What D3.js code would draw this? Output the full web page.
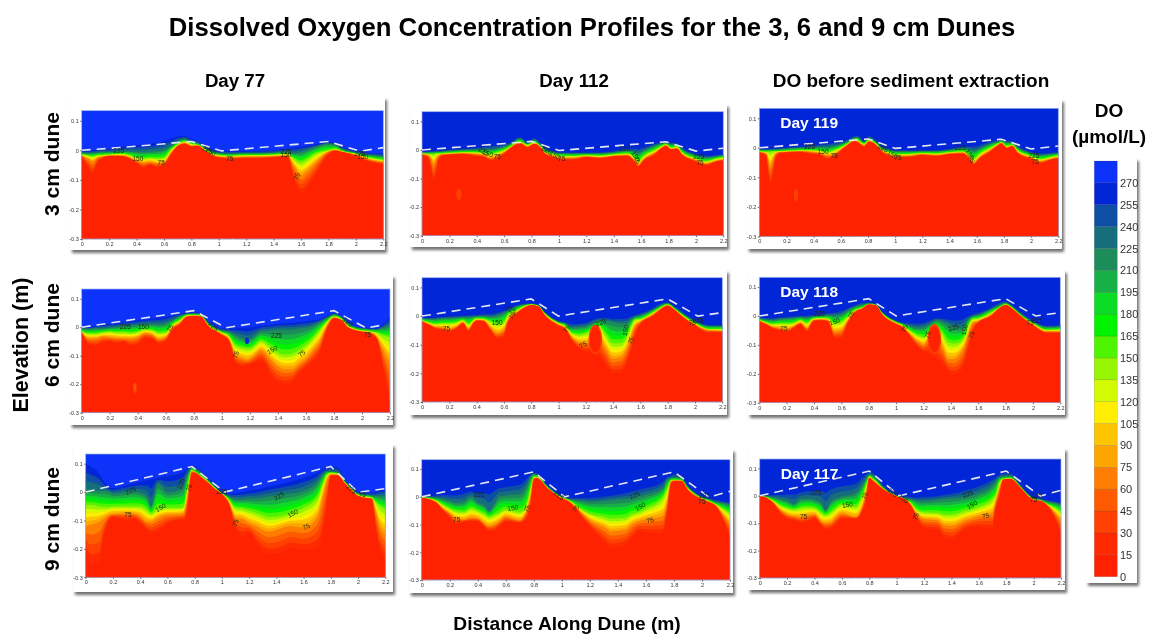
<!DOCTYPE html>
<html>
<head>
<meta charset="utf-8">
<script src="https://cdnjs.cloudflare.com/ajax/libs/d3/7.8.5/d3.min.js"></script>
<style>
  html, body { margin: 0; padding: 0; background: #fff; }
  text { font-family: "Liberation Sans", Arial, sans-serif; }
</style>
</head>
<body>
<svg id="chart" width="1150" height="635"></svg>
<script>
// DO levels read along the dune: each row is
// [distance m, elevation (mm) of the 270, 225, 150, 75 and 15 umol/L contours]
const contourLevels = [270, 225, 150, 75, 15]

const day77cm3 = [[0,-2,-8,-14,-18,-20],[.05,-1,-10,-18,-30,-65],[.08,0,-9,-20,-38,-82],[.12,3,-7,-16,-24,-40],[.15,5,-6,-16,-22,-28],[.2,6,-6,-14,-18,-20],[.3,12,-3,-12,-18,-22],[.4,17,-5,-24,-35,-45],[.45,19,-6,-28,-42,-62],[.5,22,-4,-25,-40,-52],[.55,26,-2,-28,-44,-60],[.6,30,2,-25,-42,-52],[.65,38,15,2,-10,-18],[.7,46,30,20,15,12],[.75,50,38,30,24,20],[.8,38,28,22,15,12],[.85,30,24,18,16,14],[.9,15,6,3,-2,-6],[1,-2,-10,-16,-22,-26],[1.1,-3,-12,-18,-24,-30],[1.2,-2,-10,-16,-22,-28],[1.3,-2,-10,-16,-22,-28],[1.4,0,-8,-15,-20,-25],[1.5,5,-4,-12,-18,-22],[1.55,9,-10,-28,-55,-105],[1.6,12,-6,-40,-85,-145],[1.65,16,2,-28,-68,-125],[1.7,20,10,-12,-45,-90],[1.8,28,22,0,-5,-15],[1.85,25,18,5,0,-3],[1.9,12,4,-3,-5,-7],[2,-2,-8,-12,-16,-20],[2.1,-8,-16,-25,-32,-40],[2.2,-10,-20,-32,-40,-48]]

const day112cm3 = [[0,-5,-8,-12,-15,-18],[.05,-4,-8,-14,-20,-35],[.07,-3,-7,-14,-35,-85],[.085,-3,-7,-14,-50,-115],[.1,-2,-6,-12,-35,-95],[.12,-1,-6,-12,-20,-40],[.15,0,-5,-12,-16,-20],[.2,2,-3,-10,-14,-18],[.3,5,0,-8,-12,-15],[.38,9,1,-8,-14,-22],[.45,14,2,-10,-18,-26],[.5,18,2,-14,-28,-38],[.55,20,5,-8,-20,-32],[.6,22,12,0,-8,-14],[.65,30,22,14,10,6],[.7,45,38,28,24,20],[.72,46,40,28,24,20],[.77,28,22,18,12,7],[.82,44,36,26,22,20],[.87,24,16,10,7,4],[.9,8,0,-8,-12,-16],[.95,-2,-6,-14,-20,-26],[1,-8,-12,-20,-27,-34],[1.1,-9,-12,-21,-28,-36],[1.2,-8,-12,-18,-23,-26],[1.3,-7,-12,-20,-26,-30],[1.4,-2,-8,-16,-20,-24],[1.5,6,-2,-12,-18,-22],[1.55,9,-6,-25,-36,-42],[1.58,10,-10,-38,-52,-60],[1.62,13,-2,-20,-32,-38],[1.7,24,15,0,-10,-18],[1.75,29,22,14,8,4],[1.78,30,24,20,16,12],[1.82,28,20,8,3,0],[1.86,25,20,12,6,2],[1.9,10,2,-8,-14,-20],[2,-12,-18,-30,-36,-42],[2.07,-18,-26,-40,-48,-55],[2.15,-16,-22,-30,-38,-42],[2.2,-14,-18,-26,-34,-38]]

const day119cm3 = [[0,-4,-7,-12,-15,-17],[.05,-3,-7,-13,-19,-30],[.065,-3,-7,-13,-40,-95],[.08,-2,-6,-13,-65,-125],[.1,-2,-6,-12,-40,-105],[.12,-1,-6,-12,-20,-40],[.15,0,-5,-11,-15,-19],[.2,2,-3,-10,-14,-17],[.3,6,0,-8,-12,-15],[.38,9,1,-8,-14,-22],[.45,14,3,-10,-18,-25],[.5,17,3,-14,-26,-40],[.55,20,6,-8,-22,-30],[.6,23,12,2,-6,-12],[.65,30,22,15,11,7],[.7,42,34,28,24,20],[.72,44,36,27,22,18],[.77,26,20,14,8,2],[.81,42,34,26,22,20],[.87,22,15,9,5,2],[.9,8,0,-6,-10,-14],[.95,-2,-6,-14,-22,-28],[1,-7,-12,-22,-28,-34],[1.1,-8,-12,-21,-27,-34],[1.2,-7,-11,-18,-22,-26],[1.3,-7,-11,-19,-25,-30],[1.4,-2,-7,-15,-19,-23],[1.5,6,-1,-12,-17,-21],[1.55,9,-6,-26,-36,-42],[1.58,10,-10,-36,-50,-58],[1.62,13,-2,-20,-32,-38],[1.7,23,14,0,-8,-15],[1.75,28,20,13,8,4],[1.78,29,24,19,16,13],[1.82,27,18,6,1,-2],[1.86,25,18,10,7,4],[1.9,10,2,-8,-14,-20],[2,-12,-18,-28,-34,-40],[2.07,-18,-24,-38,-46,-54],[2.15,-15,-21,-30,-37,-42],[2.2,-13,-18,-25,-33,-38]]

const day77cm6 = [[0,-2,-5,-15,-18,-20],[.05,-1,-6,-22,-40,-62],[.1,4,-4,-22,-40,-68],[.15,8,-4,-18,-33,-55],[.2,12,-2,-15,-35,-52],[.25,14,1,-18,-38,-58],[.3,17,4,-18,-40,-52],[.35,20,6,-20,-40,-68],[.4,24,8,-16,-35,-62],[.45,27,10,-8,-22,-40],[.5,30,10,-10,-26,-42],[.55,33,10,-20,-42,-58],[.6,36,14,-18,-35,-50],[.65,42,25,10,0,-10],[.7,48,38,25,15,8],[.75,50,46,42,38,34],[.8,52,48,43,40,38],[.85,48,44,40,38,36],[.9,22,16,10,6,3],[1,-5,-12,-18,-24,-30],[1.05,-5,-16,-30,-42,-50],[1.1,-4,-28,-65,-100,-130],[1.15,-2,-38,-72,-110,-140],[1.18,-1,-45,-75,-115,-135],[1.22,1,-35,-70,-105,-130],[1.28,5,-15,-48,-82,-118],[1.35,9,-12,-70,-115,-170],[1.4,12,-8,-88,-138,-198],[1.45,14,-8,-95,-148,-202],[1.5,15,-8,-92,-148,-195],[1.55,18,-5,-80,-130,-165],[1.6,20,-2,-62,-112,-142],[1.65,24,5,-38,-82,-122],[1.7,28,18,-8,-50,-90],[1.75,40,32,20,5,-12],[1.8,50,45,38,33,30],[1.85,42,36,30,26,24],[1.9,20,12,6,0,-3],[2,-2,-5,-12,-15,-18],[2.05,-4,-7,-14,-18,-22],[2.1,-5,-8,-18,-32,-38],[2.15,10,-2,-28,-80,-150],[2.2,36,6,-35,-130,-280]]

const day112cm6 = [[0,-5,-8,-15,-18,-20],[.05,-6,-10,-22,-28,-32],[.1,-4,-10,-28,-38,-45],[.15,-2,-7,-25,-40,-50],[.2,0,-6,-25,-45,-55],[.25,2,-5,-22,-38,-46],[.3,4,-4,-14,-22,-28],[.34,5,-3,-28,-44,-55],[.38,6,-2,-12,-20,-26],[.4,6,-1,-8,-14,-18],[.45,8,0,-10,-15,-20],[.5,10,-2,-18,-40,-52],[.55,14,3,-28,-60,-80],[.6,22,12,-20,-48,-75],[.63,27,18,5,-15,-22],[.7,40,35,22,15,10],[.75,45,40,35,30,28],[.8,45,42,40,38,37],[.85,40,38,36,34,33],[.9,15,12,8,4,0],[1,-16,-20,-24,-30,-36],[1.05,-20,-26,-34,-42,-48],[1.1,-24,-40,-60,-75,-90],[1.15,-22,-38,-65,-92,-115],[1.2,-20,-35,-60,-95,-125],[1.25,-10,-25,-45,-75,-130],[1.3,-3,-15,-35,-80,-145],[1.34,-2,-16,-60,-110,-170],[1.4,-6,-20,-95,-150,-200],[1.45,-3,-25,-95,-145,-200],[1.5,0,-25,-72,-115,-170],[1.53,3,-12,-35,-75,-130],[1.56,6,-3,-12,-35,-75],[1.6,12,2,-10,-20,-30],[1.7,30,25,15,8,0],[1.75,45,38,30,26,22],[1.8,50,45,40,37,35],[1.85,35,30,25,22,20],[1.9,20,12,6,2,-2],[2,-15,-18,-25,-30,-34],[2.1,-30,-35,-45,-50,-60],[2.2,-30,-35,-45,-52,-58]]

const day118cm6 = [[0,-4,-8,-14,-17,-20],[.05,-6,-12,-22,-27,-31],[.1,-5,-14,-28,-38,-45],[.15,-3,-10,-26,-42,-52],[.2,-2,-8,-26,-46,-56],[.25,0,-6,-24,-36,-45],[.3,2,-4,-14,-24,-30],[.35,4,-5,-24,-42,-56],[.38,5,-3,-12,-22,-30],[.4,6,-1,-8,-14,-18],[.45,8,1,-7,-12,-17],[.5,12,3,-8,-14,-20],[.55,16,2,-25,-55,-80],[.6,22,6,-20,-50,-78],[.65,32,20,0,-14,-24],[.7,40,32,20,16,12],[.75,48,38,28,25,24],[.8,48,44,41,40,39],[.85,42,40,38,37,36],[.9,15,12,8,5,2],[1,-15,-18,-22,-26,-30],[1.05,-22,-26,-32,-38,-42],[1.1,-22,-34,-50,-62,-72],[1.15,-20,-40,-65,-85,-105],[1.2,-18,-38,-72,-100,-125],[1.25,-10,-26,-50,-75,-135],[1.3,-4,-14,-40,-80,-150],[1.34,-4,-20,-60,-110,-170],[1.38,-6,-28,-90,-150,-192],[1.42,-5,-38,-95,-150,-205],[1.47,-2,-40,-88,-130,-195],[1.5,2,-30,-70,-105,-165],[1.53,5,-10,-30,-60,-115],[1.56,8,-1,-10,-25,-60],[1.6,14,4,-8,-18,-25],[1.7,32,26,14,6,0],[1.75,48,36,28,26,24],[1.8,52,46,40,38,37],[1.85,38,32,28,25,23],[1.9,20,12,6,4,2],[2,-16,-20,-25,-30,-34],[2.1,-32,-38,-48,-54,-60],[2.2,-30,-36,-46,-54,-60]]

const day77cm9 = [[0,100,10,-45,-120,-215],[.04,88,8,-45,-115,-255],[.1,65,5,-50,-105,-250],[.13,40,5,-52,-95,-170],[.18,14,0,-52,-80,-95],[.2,14,-5,-50,-78,-90],[.3,24,0,-50,-75,-100],[.35,30,3,-50,-76,-95],[.4,36,-2,-50,-85,-112],[.45,42,-15,-62,-105,-135],[.48,44,-50,-75,-105,-145],[.53,50,30,-58,-92,-140],[.6,56,0,-55,-80,-115],[.7,66,10,-55,-78,-100],[.72,72,20,-50,-75,-100],[.74,80,55,0,-40,-90],[.78,90,85,78,72,65],[.8,90,82,72,70,66],[.85,75,65,55,52,50],[.9,50,42,36,33,30],[.95,25,18,14,11,8],[1,0,-3,-5,-7,-9],[1.05,-5,-15,-25,-35,-45],[1.1,-3,-25,-55,-90,-130],[1.15,0,-25,-58,-95,-155],[1.2,4,-22,-65,-110,-145],[1.25,8,-22,-72,-120,-180],[1.35,20,-15,-88,-140,-220],[1.45,30,-8,-82,-125,-212],[1.5,36,-5,-75,-120,-198],[1.6,50,5,-55,-125,-205],[1.7,68,35,-20,-90,-195],[1.74,80,60,30,-20,-150],[1.77,85,72,62,40,-60],[1.8,90,72,68,62,55],[1.85,88,70,65,60,58],[1.9,48,40,36,33,30],[1.95,20,14,10,8,5],[2,0,-5,-10,-13,-17],[2.05,-3,-10,-15,-20,-22],[2.1,-3,-12,-20,-23,-25],[2.13,0,-14,-35,-70,-140],[2.15,5,-14,-45,-110,-190],[2.2,12,-15,-60,-150,-240]]

const day112cm9 = [[0,2,0,-2,-3,-5],[.1,8,-3,-12,-18,-22],[.15,12,-8,-28,-42,-50],[.2,15,-15,-42,-60,-75],[.25,20,-22,-52,-80,-98],[.3,24,-18,-55,-82,-92],[.35,28,0,-42,-75,-90],[.4,30,-20,-50,-78,-90],[.45,36,-32,-62,-98,-112],[.48,38,-50,-72,-105,-125],[.52,44,-25,-65,-100,-122],[.55,46,0,-58,-90,-112],[.6,50,5,-45,-72,-92],[.7,60,10,-55,-85,-95],[.75,78,40,-25,-50,-80],[.78,84,75,40,10,-25],[.8,90,82,72,66,60],[.82,88,80,72,68,66],[.9,42,36,32,30,28],[1,6,0,-3,-5,-7],[1.05,-2,-8,-12,-16,-20],[1.1,-2,-12,-30,-38,-42],[1.15,0,-15,-48,-62,-80],[1.2,3,-18,-60,-85,-110],[1.3,8,-15,-72,-110,-165],[1.35,12,-12,-78,-125,-185],[1.45,22,-8,-75,-120,-175],[1.5,30,-5,-62,-100,-150],[1.55,36,2,-55,-88,-125],[1.6,42,8,-42,-82,-130],[1.72,65,30,-2,-70,-135],[1.75,75,62,28,-25,-70],[1.78,80,68,60,55,45],[1.8,85,70,62,58,56],[1.85,82,68,60,58,56],[1.9,42,36,30,26,22],[2,5,-2,-6,-8,-10],[2.05,-2,-10,-14,-18,-22],[2.1,-8,-18,-28,-32,-35],[2.15,-14,-22,-42,-65,-85],[2.2,-20,-28,-60,-100,-155]]

const day117cm9 = [[0,2,0,-1,-2,-2],[.05,3,-2,-6,-8,-10],[.1,6,-6,-18,-25,-30],[.15,10,-12,-35,-52,-65],[.2,15,-18,-45,-68,-85],[.25,20,-30,-50,-75,-90],[.3,24,-12,-45,-78,-100],[.35,28,-10,-42,-72,-95],[.4,32,-15,-45,-68,-85],[.45,38,-25,-62,-95,-110],[.48,40,-52,-70,-100,-125],[.52,45,-20,-60,-98,-120],[.55,48,-10,-48,-82,-110],[.6,52,-3,-32,-65,-85],[.7,60,10,-40,-78,-85],[.75,78,40,0,-40,-60],[.78,85,65,45,20,-15],[.8,90,78,70,66,62],[.83,85,72,60,55,50],[.9,40,32,27,25,22],[1,6,0,-2,-3,-4],[1.05,0,-8,-10,-11,-12],[1.1,-2,-12,-24,-30,-35],[1.15,-2,-18,-52,-70,-85],[1.2,2,-20,-60,-85,-120],[1.3,5,-15,-62,-90,-125],[1.35,10,-12,-68,-108,-155],[1.4,15,-10,-68,-110,-160],[1.5,30,-5,-55,-90,-125],[1.6,45,10,-40,-75,-115],[1.7,68,38,-12,-65,-120],[1.72,72,50,0,-30,-60],[1.75,80,68,50,25,-10],[1.78,85,70,62,60,58],[1.83,86,72,64,62,60],[1.9,45,38,34,32,30],[1.95,15,10,6,3,1],[2,-5,-10,-13,-15,-18],[2.05,-8,-14,-17,-19,-20],[2.1,-14,-22,-30,-34,-38],[2.15,-18,-26,-42,-60,-80],[2.2,-24,-32,-58,-90,-150]]

// white dashed sediment surface, [distance m, elevation mm]
const surface3a = [[0,0],[.3,10],[.8,30],[1.02,-2],[1.8,30],[2.03,-3],[2.2,9]]
const surface3b = [[0,0],[.8,30],[1,-2],[1.78,29],[2,-4],[2.2,6]]
const surface6a = [[0,0],[.8,58],[1.03,-2],[1.8,58],[2.03,-3],[2.13,6]]
const surface6b = [[0,0],[.8,60],[1,0],[1.8,60],[2.02,0],[2.2,12]]
const surface9a = [[0,0],[.78,90],[1.02,0],[1.8,90],[2,-1],[2.2,12]]
const surface9b = [[0,0],[.8,90],[1.02,0],[1.8,90],[2.05,-1],[2.2,20]]

// in-line contour labels, [distance m, elevation mm, label, rotation]
const labels77cm3 = [[.27,-3,'225',0],[.41,-30,'150',0],[.58,-42,'75',0],[.92,1,'225',30],[.94,-4,'150',30],[1.08,-27,'75',0],[1.49,-6,'225',0],[1.49,-14,'150',0],[1.57,-88,'75',-70],[2.03,-12,'225',0],[2.05,-22,'150',0]]
const labels112cm3 = [[.45,-4,'225',30],[.48,-12,'150',20],[.55,-25,'75',0],[.91,-1,'225',30],[.97,-18,'150',30],[1.02,-32,'75',0],[1.48,4,'225',0],[1.56,-22,'150',60],[1.57,-35,'75',60],[2.02,-25,'225',0],[2.03,-45,'75',0]]
const labels119cm3 = [[.37,5,'225',0],[.47,-14,'150',0],[.55,-27,'75',0],[.91,-1,'225',30],[.98,-22,'150',30],[1.02,-35,'75',0],[1.48,2,'225',0],[1.55,-22,'150',60],[1.56,-38,'75',60],[2.02,-28,'225',0],[2.03,-46,'75',0]]
const labels77cm6 = [[.31,0,'225',0],[.44,2,'150',0],[.63,-3,'75',-60],[.94,3,'225',40],[1.1,-96,'75',-70],[1.39,-29,'225',0],[1.36,-80,'150',-30],[1.57,-92,'75',-40],[1.9,18,'225',40],[2.04,-25,'75',0]]
const labels112cm6 = [[.18,-45,'75',0],[.55,-22,'150',0],[.65,22,'225',20],[.66,2,'75',-60],[1.06,-45,'75',-60],[1.18,-100,'75',-30],[1.31,-22,'225',-20],[1.49,-50,'150',-80],[1.53,-85,'75',-70],[2.02,-15,'225',0],[1.98,-22,'75',0]]
const labels118cm6 = [[.18,-45,'75',0],[.44,8,'225',0],[.55,-20,'150',-20],[.67,3,'75',-60],[1.06,-43,'75',-60],[1.23,-65,'75',-70],[1.42,-40,'225',-20],[1.5,-48,'150',-80],[1.55,-65,'75',-70],[2.03,-16,'225',0],[1.98,-22,'75',0]]
const labels77cm9 = [[.33,5,'225',-25],[.55,-55,'150',-30],[.31,-80,'75',0],[.7,30,'225',-70],[.76,15,'75',-70],[1,0,'225',0],[1.1,-108,'75',-70],[1.42,-14,'225',-30],[1.52,-75,'150',-30],[1.62,-122,'75',-25],[1.95,10,'225',40],[2.03,-10,'75',0]]
const labels112cm9 = [[.41,8,'225',0],[.65,-40,'150',-10],[.25,-83,'75',0],[.75,-42,'75',-70],[.98,5,'225',40],[1.1,-42,'75',-50],[1.52,5,'225',-25],[1.56,-35,'150',-30],[1.63,-85,'75',-15],[2.02,3,'225',0],[2,-18,'75',0]]
const labels117cm9 = [[.41,10,'225',0],[.64,-33,'150',-10],[.32,-78,'75',0],[.77,0,'75',-70],[.97,12,'225',40],[1.05,-10,'150',40],[1.14,-75,'75',-70],[1.52,6,'225',-20],[1.55,-33,'150',-30],[1.65,-73,'75',-15],[2.02,0,'225',0],[2,-13,'75',0]]

// closed patches inside a panel, [distance m, elevation mm, half width m, half height mm, legend band]
const patches77cm6 = [[.38,-212,.014,20,2],[.38,-212,.008,13,3],[1.18,-48,.014,12,17]]
const patches112cm3 = [[.27,-155,.02,20,2]]
const patches119cm3 = [[.27,-160,.016,22,2]]
const patches112cm6 = [[1.27,-82,.05,52,2],[1.27,-82,.04,45,0]]
const patches118cm6 = [[1.28,-80,.05,52,2],[1.28,-80,.04,45,0]]

// legend bands from 0-15 up to 270-285
const bandColors = ['#ff2200','#ff2a06','#ff3f00','#ff5a00','#ff7d00','#ffa500','#ffc400','#ffee00','#d2fa00','#96f500','#50f500','#00f400','#0fdc28','#19b046','#1e8c5a','#146e7d','#0f50a5','#0528d7','#0a32fa']
const legendTicks = [0,15,30,45,60,75,90,105,120,135,150,165,180,195,210,225,240,255,270]
const xTicks = [0,.2,.4,.6,.8,1,1.2,1.4,1.6,1.8,2,2.2]
const yTicks = [.1,0,-.1,-.2,-.3]

const columnTitles = ['Day 77','Day 112','DO before sediment extraction']
const rowTitles = ['3 cm dune','6 cm dune','9 cm dune']

// card = white mount, plot = contour area, both [left, top, right, bottom]
const panels = [
  {rows: day77cm3, surface: surface3a, labels: labels77cm3, patches: [], water: 285, card: [70,97,385,250], plot: [81.7,110.7,383.3,239]},
  {rows: day112cm3, surface: surface3b, labels: labels112cm3, patches: patches112cm3, water: 270, card: [410,104,727,247], plot: [422,111.7,723.3,235.7]},
  {rows: day119cm3, surface: surface3b, labels: labels119cm3, patches: patches119cm3, water: 270, card: [747,99,1062,249], plot: [759.3,108.3,1058.3,236.3], day: 'Day 119'},
  {rows: day77cm6, surface: surface6a, labels: labels77cm6, patches: patches77cm6, water: 285, card: [70,275,393,425], plot: [81.7,289,390,412.7]},
  {rows: day112cm6, surface: surface6b, labels: labels112cm6, patches: patches112cm6, water: 270, card: [410,270,727,415], plot: [422,277.7,722.3,402]},
  {rows: day118cm6, surface: surface6b, labels: labels118cm6, patches: patches118cm6, water: 270, card: [748,270,1065,415], plot: [759.3,277.3,1060.3,402.7], day: 'Day 118'},
  {rows: day77cm9, surface: surface9a, labels: labels77cm9, patches: [], water: 285, card: [73,444,393,592], plot: [85.7,454,385.3,577.3]},
  {rows: day112cm9, surface: surface9b, labels: labels112cm9, patches: [], water: 270, card: [409,449,733,593], plot: [421.7,459.7,730,580]},
  {rows: day117cm9, surface: surface9b, labels: labels117cm9, patches: [], water: 270, card: [748,448,1065,590], plot: [759.7,459,1061,578], day: 'Day 117'}
]

const svg = d3.select('#chart')
const defs = svg.append('defs')
defs.append('filter').attr('id', 'soft').attr('x', '-5%').attr('y', '-5%').attr('width', '110%').attr('height', '110%')
  .append('feGaussianBlur').attr('stdDeviation', 0.55)
defs.append('filter').attr('id', 'shadow').attr('x', '-5%').attr('y', '-5%').attr('width', '110%').attr('height', '110%')
  .append('feGaussianBlur').attr('stdDeviation', 1.8)
defs.append('filter').attr('id', 'textsoft')
  .append('feGaussianBlur').attr('stdDeviation', 0.3)

let drawCard = function (box) {
  svg.append('rect')
    .attr('x', box[0] + 2).attr('y', box[1] + 3)
    .attr('width', box[2] - box[0]).attr('height', box[3] - box[1])
    .attr('fill', '#6f6f6f')
    .attr('filter', 'url(#shadow)')
  svg.append('rect')
    .attr('x', box[0]).attr('y', box[1])
    .attr('width', box[2] - box[0]).attr('height', box[3] - box[1])
    .attr('fill', '#fff')
}

let drawPanel = function (panel) {
  drawCard(panel.card)
  let [left, top, right, bottom] = panel.plot
  let x = d3.scaleLinear().domain([0, 2.2]).range([left, right])
  let y = d3.scaleLinear().domain([-.3, .134]).range([bottom, top])
  let g = svg.append('g').attr('filter', 'url(#soft)')

  g.append('rect')
    .attr('x', left).attr('y', top)
    .attr('width', right - left).attr('height', bottom - top)
    .attr('fill', bandColors[panel.water / 15 - 1])

  let levelAt = function (row, level) {
    return d3.scaleLinear().domain(contourLevels).range(row.slice(1))(level) / 1000
  }
  d3.range(270, 0, -15).forEach(level => {
    let area = d3.area()
      .x(d => x(d[0]))
      .y0(bottom)
      .y1(d => y(levelAt(d, level)))
      .curve(d3.curveMonotoneX)
    g.append('path')
      .datum(panel.rows)
      .attr('d', area)
      .attr('fill', bandColors[level / 15 - 1])
      .attr('stroke', 'rgba(60,20,0,0.08)')
      .attr('stroke-width', 0.4)
  })

  g.selectAll('.patch')
    .data(panel.patches)
    .enter()
    .append('ellipse')
    .attr('class', 'patch')
    .attr('cx', d => x(d[0]))
    .attr('cy', d => y(d[1] / 1000))
    .attr('rx', d => x(d[2]) - x(0))
    .attr('ry', d => y(0) - y(d[3] / 1000))
    .attr('fill', d => bandColors[d[4]])

  g.append('rect')
    .attr('x', left).attr('y', top)
    .attr('width', right - left).attr('height', bottom - top)
    .attr('fill', 'none')
    .attr('stroke', '#9db0ee')
    .attr('stroke-width', 0.7)

  let line = d3.line().x(d => x(d[0])).y(d => y(d[1] / 1000))
  g.append('path')
    .datum(panel.surface)
    .attr('d', line)
    .attr('fill', 'none')
    .attr('stroke', '#e4e6f2')
    .attr('stroke-width', 1.6)
    .attr('stroke-dasharray', '9 6')

  g.selectAll('.contour-label')
    .data(panel.labels)
    .enter()
    .append('text')
    .attr('class', 'contour-label')
    .attr('transform', d => `translate(${x(d[0])},${y(d[1] / 1000)}) rotate(${d[3]})`)
    .attr('text-anchor', 'middle')
    .attr('dy', '0.35em')
    .attr('font-size', 6.5)
    .attr('fill', '#1c2a10')
    .text(d => d[2])

  let axisX = g.append('g')
    .attr('transform', `translate(0,${bottom})`)
    .call(d3.axisBottom(x).tickValues(xTicks).tickSize(1.5).tickPadding(1.5).tickFormat(d => d))
  let axisY = g.append('g')
    .attr('transform', `translate(${left},0)`)
    .call(d3.axisLeft(y).tickValues(yTicks).tickSize(1.5).tickPadding(1.5).tickFormat(d => d))
  ;[axisX, axisY].forEach(axis => {
    axis.select('.domain').remove()
    axis.selectAll('line').attr('stroke', '#666')
    axis.selectAll('text').attr('font-size', 5.5).attr('fill', '#333')
  })

  if (panel.day) {
    svg.append('text')
      .attr('x', left + 21).attr('y', top + 20)
      .attr('font-size', 15.5).attr('font-weight', 'bold').attr('fill', '#fff')
      .attr('filter', 'url(#textsoft)')
      .text(panel.day)
  }
}

panels.forEach(drawPanel)

// legend
drawCard([1086, 158, 1137, 583])
let legendScale = d3.scaleLinear().domain([0, 285]).range([576.7, 161])
let legend = svg.append('g').attr('filter', 'url(#soft)')
legend.selectAll('.band')
  .data(bandColors)
  .enter()
  .append('rect')
  .attr('class', 'band')
  .attr('x', 1094.3)
  .attr('y', (d, i) => legendScale((i + 1) * 15))
  .attr('width', 23)
  .attr('height', (d, i) => legendScale(i * 15) - legendScale((i + 1) * 15))
  .attr('fill', d => d)
  .attr('stroke', 'rgba(60,40,40,0.3)')
  .attr('stroke-width', 0.5)
let legendAxis = svg.append('g')
  .attr('transform', 'translate(1117.5,0)')
  .attr('filter', 'url(#textsoft)')
  .call(d3.axisRight(legendScale).tickValues(legendTicks).tickSize(0).tickPadding(2.5).tickFormat(d => d))
legendAxis.select('.domain').remove()
legendAxis.selectAll('text').attr('font-size', 11).attr('fill', '#333')

// titles
let addText = function (txt, x, y, size, rotate) {
  svg.append('text')
    .attr('transform', `translate(${x},${y}) rotate(${rotate || 0})`)
    .attr('text-anchor', 'middle')
    .attr('font-size', size)
    .attr('font-weight', 'bold')
    .attr('fill', '#000')
    .attr('filter', 'url(#textsoft)')
    .text(txt)
}
addText('Dissolved Oxygen Concentration Profiles for the 3, 6 and 9 cm Dunes', 592, 36, 25.7)
addText(columnTitles[0], 235, 87, 18.7)
addText(columnTitles[1], 574, 87, 18.7)
addText(columnTitles[2], 911, 87, 19)
addText(rowTitles[0], 59, 164, 21, -90)
addText(rowTitles[1], 59, 335, 21, -90)
addText(rowTitles[2], 59, 519, 21, -90)
addText('Elevation (m)', 28, 345, 21.5, -90)
addText('Distance Along Dune (m)', 567, 630, 19.2)
addText('DO', 1109, 117, 19)
addText('(\u00b5mol/L)', 1109, 143, 19)
</script>
</body>
</html>
